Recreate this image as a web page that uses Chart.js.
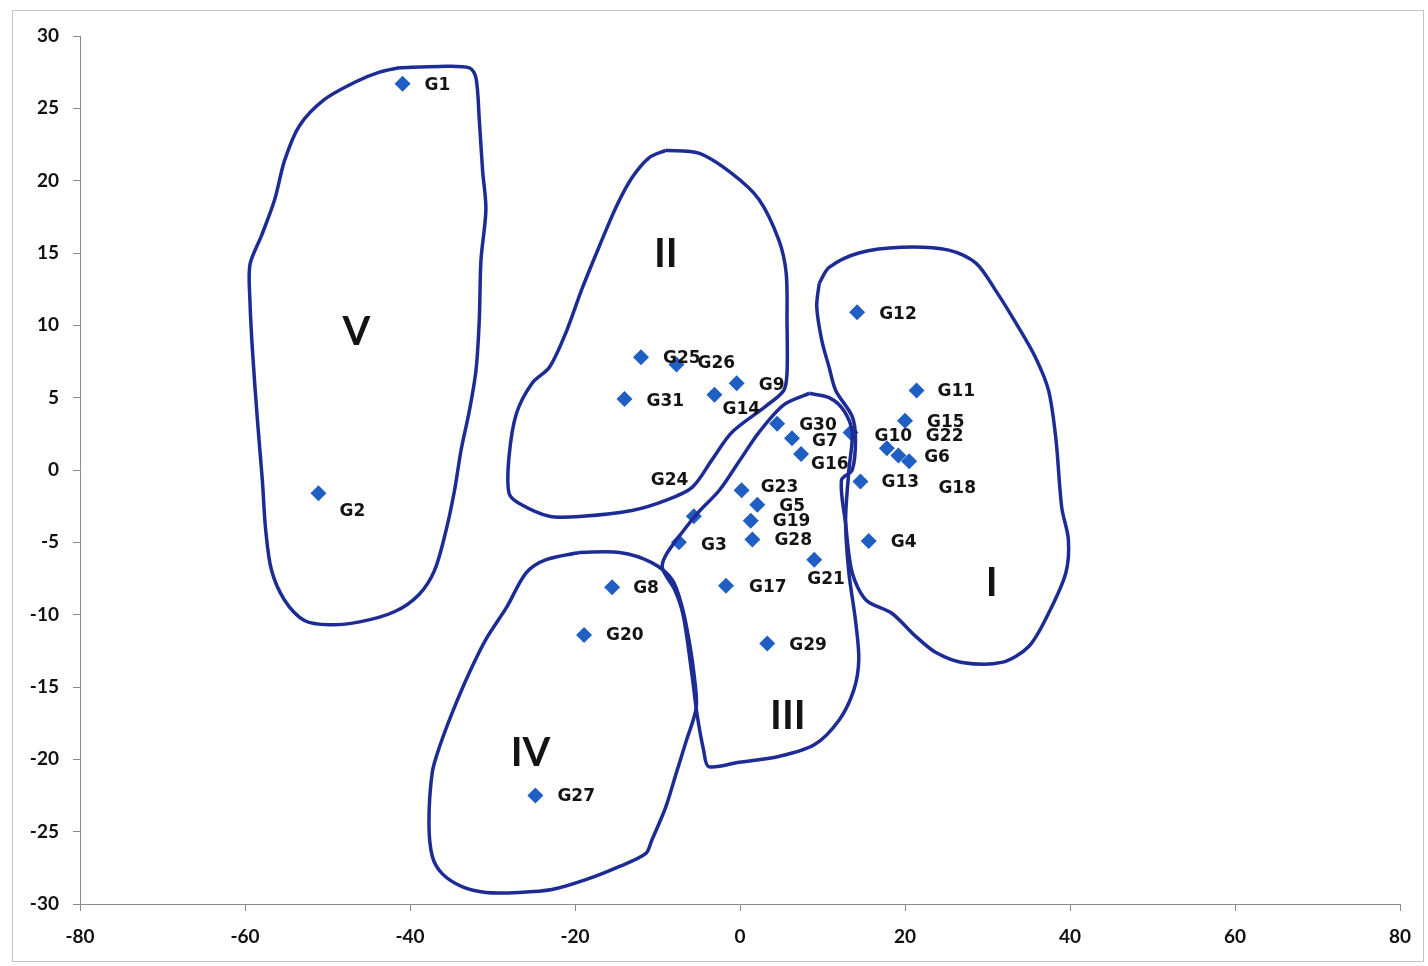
<!DOCTYPE html>
<html>
<head>
<meta charset="utf-8">
<script src="https://cdn.jsdelivr.net/npm/chart.js@4/dist/chart.umd.min.js"></script>
<style>
  html, body { margin: 0; padding: 0; background: #ffffff; }
  #wrap { position: relative; width: 1428px; height: 966px; }
  #frame { position: absolute; left: 12px; top: 10px; width: 1412px; height: 952px; border: 1px solid #c4c4c4; box-sizing: border-box; pointer-events: none; }
  canvas { position: absolute; left: 0; top: 0; }
</style>
</head>
<body>
<div id="wrap">
  <canvas id="c" width="1428" height="966"></canvas>
  <div id="frame"></div>
</div>
<script>
// ---- Data ----
const genotypes = ['G1','G2','G3','G4','G5','G6','G7','G8','G9','G10','G11','G12','G13','G14','G15','G16','G17','G18','G19','G20','G21','G22','G23','G24','G25','G26','G27','G28','G29','G30','G31'];
const xValues = [-40.9,-51.1,-7.4,15.6,2.1,20.5,6.3,-15.5,-0.4,13.4,21.4,14.2,14.6,-3.1,20.0,7.4,-1.7,19.2,1.3,-18.9,9.0,17.8,0.2,-5.6,-12.0,-7.7,-24.8,1.5,3.3,4.5,-14.0];
const yValues = [26.7,-1.6,-5.0,-4.9,-2.4,0.6,2.2,-8.1,6.0,2.6,5.5,10.9,-0.8,5.2,3.4,1.1,-8.0,1.0,-3.5,-11.4,-6.2,1.5,-1.4,-3.2,7.8,7.3,-22.5,-4.8,-12.0,3.2,4.9];

// label nudges (pixels, relative to each marker)
const labelDx = [22,21,22,22,22,15,20,21,22,24,21,22,21,8,22,10,23,40,22,22,-7,39,19,-43,22,21,22,22,22,22,22];
const labelDy = [2,18,3,2,2,-4,3,1,2,4,1,2,1,15,2,10,2,33,1,1,20,-12,-3,-36,1,-1,1,1,2,2,2];

const xTicks = [-80,-60,-40,-20,0,20,40,60,80];
const yTicks = [-30,-25,-20,-15,-10,-5,0,5,10,15,20,25,30];

const clusterNames = ['I','II','III','IV','V'];
const clusterLabelX = [30.5,-9.0,5.8,-25.4,-46.5];
const clusterLabelY = [-7.8,14.9,-17.0,-19.6,9.5];

// hand-drawn cluster outlines (data units)
const outlineI = [[9.6,12.9],[10.8,14.0],[14.4,15.0],[19.6,15.4],[25.3,15.2],[28.6,14.3],[31.0,12.4],[33.4,10.2],[35.8,7.8],[37.4,5.5],[38.3,2.1],[39.0,-2.6],[39.8,-4.8],[39.5,-7.1],[37.4,-9.9],[35.0,-12.2],[31.7,-13.3],[26.9,-13.3],[23.7,-12.6],[21.3,-11.5],[18.4,-9.9],[15.3,-9.0],[13.6,-7.1],[12.8,-3.7],[12.3,-0.7],[13.6,0.0],[14.0,2.1],[13.6,3.7],[11.6,5.5],[10.8,7.1],[9.9,9.0],[9.3,11.3],[9.6,12.9]];
const outlineII = [[-9.0,22.1],[-5.0,21.9],[-1.0,20.5],[2.3,18.7],[4.7,15.9],[5.6,13.6],[5.7,10.2],[5.7,6.7],[5.3,5.5],[3.1,4.4],[-1.0,2.6],[-3.4,0.7],[-5.8,-1.2],[-9.0,-2.1],[-13.1,-2.8],[-19.1,-3.2],[-23.1,-3.2],[-26.8,-2.3],[-28.0,-1.6],[-28.0,0.9],[-27.1,3.9],[-25.2,6.0],[-23.1,7.1],[-21.1,9.5],[-19.1,12.6],[-17.1,15.4],[-15.0,18.2],[-13.1,20.2],[-11.0,21.6],[-9.0,22.1]];
const outlineIII = [[8.4,5.3],[10.8,5.0],[12.6,4.1],[13.6,2.6],[13.2,0.0],[12.8,-3.5],[13.2,-7.1],[14.0,-10.4],[14.4,-13.1],[13.8,-15.2],[12.0,-17.3],[9.0,-19.0],[4.7,-19.8],[-0.1,-20.2],[-3.8,-20.5],[-4.4,-19.4],[-5.2,-16.9],[-5.9,-13.8],[-6.9,-10.0],[-7.9,-8.3],[-9.4,-6.8],[-9.0,-5.9],[-7.0,-4.3],[-5.0,-2.9],[-2.5,-1.4],[-0.1,0.6],[2.3,2.6],[5.3,4.5],[8.4,5.3]];
const outlineIV = [[-19.5,-5.7],[-14.6,-5.7],[-10.7,-6.4],[-8.2,-7.6],[-7.0,-9.5],[-6.2,-11.7],[-5.6,-14.0],[-5.3,-16.4],[-6.5,-18.7],[-7.7,-20.9],[-9.0,-23.3],[-10.7,-25.6],[-11.4,-26.5],[-14.6,-27.4],[-18.6,-28.3],[-22.8,-29.0],[-26.8,-29.2],[-30.8,-29.2],[-33.7,-28.8],[-36.1,-27.9],[-37.3,-26.7],[-37.7,-24.4],[-37.3,-20.9],[-36.4,-19.1],[-34.9,-16.8],[-32.8,-14.0],[-30.8,-11.7],[-28.3,-9.5],[-25.9,-7.1],[-23.5,-6.2],[-19.5,-5.7]];
const outlineV = [[-41.3,27.8],[-36.4,27.9],[-32.8,27.8],[-32.0,27.1],[-31.6,24.2],[-31.2,20.7],[-30.8,18.0],[-31.4,14.5],[-31.6,10.4],[-32.0,6.9],[-32.8,4.1],[-33.8,1.4],[-34.6,-1.4],[-35.6,-4.1],[-37.0,-6.9],[-38.9,-8.6],[-41.9,-9.8],[-46.1,-10.5],[-49.8,-10.7],[-52.8,-10.4],[-55.2,-9.0],[-56.8,-6.9],[-57.5,-4.1],[-57.9,-0.7],[-58.5,3.5],[-59.1,8.3],[-59.4,11.7],[-59.4,14.2],[-58.0,16.2],[-56.4,18.7],[-55.2,21.4],[-53.4,23.8],[-50.4,25.6],[-46.7,26.8],[-43.7,27.5],[-41.3,27.8]];

// ---- Styling ----
const markerColor = '#1f5fc4';
const outlineColor = '#1c2c94';
const axisColor = '#8a8a8a';
const tickFont = { family: 'Lato', size: 19, weight: 'bold' };

function outlineDataset(pairs) {
  return {
    data: pairs.map(p => ({ x: p[0], y: p[1] })),
    showLine: true,
    borderColor: outlineColor,
    borderWidth: 3.5,
    pointRadius: 0,
    pointHoverRadius: 0,
    fill: false,
    tension: 0.3
  };
}

const labelPlugin = {
  id: 'labels',
  afterDatasetsDraw(chart) {
    const ctx = chart.ctx;
    const meta = chart.getDatasetMeta(chart.data.datasets.length - 1);
    ctx.save();
    ctx.fillStyle = '#141414';
    ctx.font = 'bold 17px "DejaVu Sans"';
    ctx.textAlign = 'left';
    ctx.textBaseline = 'middle';
    meta.data.forEach((el, i) => {
      ctx.fillText(genotypes[i], el.x + labelDx[i], el.y + labelDy[i]);
    });
    ctx.font = 'bold 40px Lato';
    ctx.textAlign = 'center';
    const xs = chart.scales.x, ys = chart.scales.y;
    clusterNames.forEach((n, i) => {
      ctx.fillText(n, xs.getPixelForValue(clusterLabelX[i]), ys.getPixelForValue(clusterLabelY[i]));
    });
    ctx.restore();
  }
};

new Chart(document.getElementById('c'), {
  type: 'scatter',
  data: {
    datasets: [
      outlineDataset(outlineI),
      outlineDataset(outlineII),
      outlineDataset(outlineIII),
      outlineDataset(outlineIV),
      outlineDataset(outlineV),
      {
        data: xValues.map((x, i) => ({ x: x, y: yValues[i] })),
        pointStyle: 'rectRot',
        pointRadius: 8,
        pointHoverRadius: 8,
        backgroundColor: markerColor,
        borderColor: markerColor,
        borderWidth: 0
      }
    ]
  },
  options: {
    responsive: false,
    maintainAspectRatio: false,
    animation: false,
    events: [],
    layout: { padding: { left: 0, top: 36, right: 28, bottom: 0 } },
    plugins: { legend: { display: false }, tooltip: { enabled: false } },
    scales: {
      x: {
        type: 'linear',
        min: -80, max: 80,
        afterBuildTicks(scale) { scale.ticks = xTicks.map(v => ({ value: v })); },
        afterFit(scale) { scale.height = 62; },
        ticks: { color: '#111', font: tickFont, padding: 14, maxRotation: 0 },
        grid: { drawOnChartArea: false, drawTicks: true, tickLength: 7, color: axisColor },
        border: { display: true, color: axisColor, width: 1 }
      },
      y: {
        type: 'linear',
        min: -30, max: 30,
        afterBuildTicks(scale) { scale.ticks = yTicks.map(v => ({ value: v })); },
        afterFit(scale) { scale.width = 80; },
        ticks: { color: '#111', font: tickFont, padding: 14 },
        grid: { drawOnChartArea: false, drawTicks: true, tickLength: 7, color: axisColor },
        border: { display: true, color: axisColor, width: 1 }
      }
    }
  },
  plugins: [labelPlugin]
});
</script>
</body>
</html>
